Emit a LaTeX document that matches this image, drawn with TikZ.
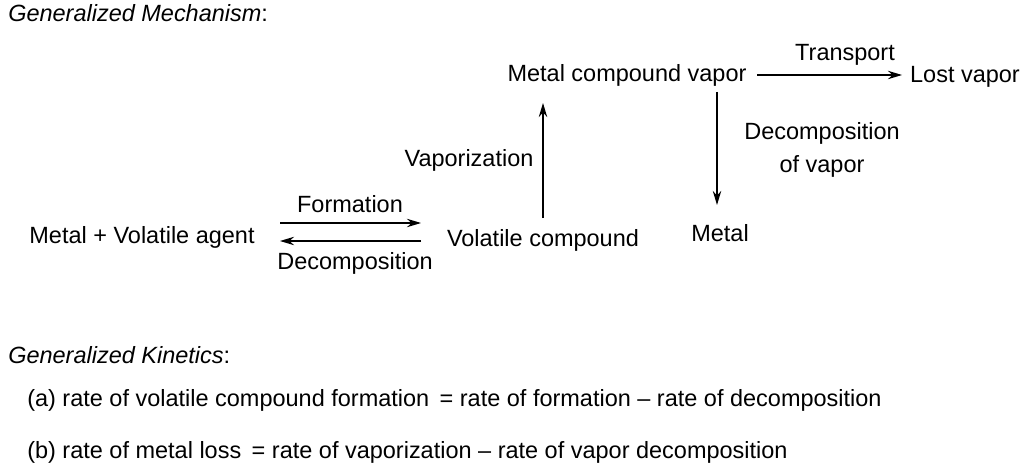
\documentclass[tikz,border=0pt]{standalone}
\usepackage{fontspec}
\setmainfont{Liberation Sans}
\usetikzlibrary{arrows.meta}
\begin{document}
\begin{tikzpicture}[x=0.025cm,y=-0.025cm,
  lbl/.style={font=\fontsize{16.7}{19}\selectfont,inner sep=0pt},
  arr/.style={-{Stealth[length=10pt,width=6pt]},line width=0.9pt}]
\useasboundingbox (0,0) rectangle (1024,472);
\node[lbl,anchor=west] (t1) at (8,13) {\textit{Generalized Mechanism}:};
\node[lbl] (mcv) at (627,75) {Metal compound vapor};
\node[lbl] (lost) at (965,77) {Lost vapor};
\coordinate (ta) at (757,75); \coordinate (tb) at (902,75);
\draw[arr] (ta) -- (tb);
\node[lbl] (tr) at (845,55) {Transport};
\node[lbl] (vc) at (543,240) {Volatile compound};
\coordinate (va) at (543,218); \coordinate (vb) at (543,103);
\draw[arr] (va) -- (vb);
\node[lbl] (vap) at (469,160) {Vaporization};
\coordinate (da) at (717,92); \coordinate (db) at (717,205);
\draw[arr] (da) -- (db);
\node[lbl,align=center] (dov) at (822,150) {Decomposition\\[4pt]of vapor};
\node[lbl] (metal) at (720,233) {Metal};
\node[lbl] (mva) at (142,237) {Metal + Volatile agent};
\coordinate (fa) at (280,223); \coordinate (fb) at (421,223);
\draw[arr] (fa) -- (fb);
\coordinate (ba) at (421,241); \coordinate (bb) at (280,241);
\draw[arr] (ba) -- (bb);
\node[lbl] (form) at (350,204) {Formation};
\node[lbl] (dec) at (355,263) {Decomposition};
\node[lbl,anchor=west] (t2) at (8,355) {\textit{Generalized Kinetics}:};
\node[lbl,anchor=west] (ka) at (27,400) {(a) rate of volatile compound formation\, = rate of formation -- rate of decomposition};
\node[lbl,anchor=west] (kb) at (27,452) {(b) rate of metal loss\, = rate of vaporization -- rate of vapor decomposition};
\end{tikzpicture}
\end{document}
